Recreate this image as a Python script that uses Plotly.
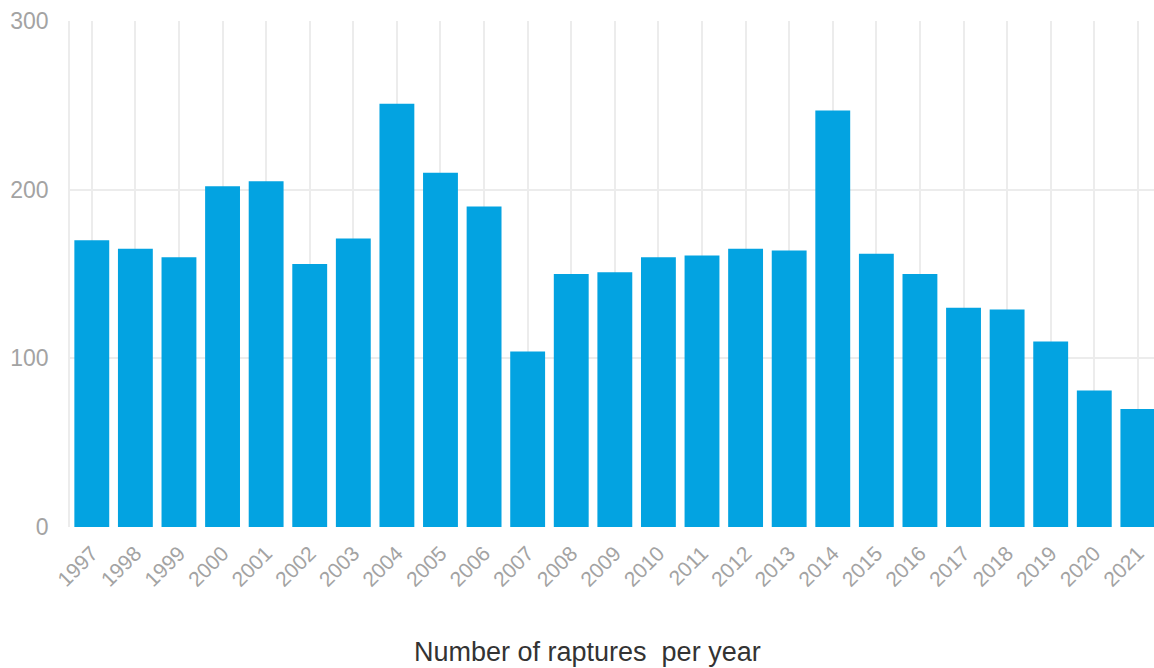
import plotly.graph_objects as go

# Raptures recorded per year
years = [str(y) for y in range(1997, 2022)]
raptures = [170, 165, 160, 202, 205, 156, 171, 251, 210, 190, 104, 150, 151,
            160, 161, 165, 164, 247, 162, 150, 130, 129, 110, 81, 70]
y_ticks = [0, 100, 200, 300]

BAR_COLOR = "#03a3e1"
GRID_COLOR = "#ececec"
TICK_COLOR = "#a3a3a3"
FONT = "Liberation Sans, Arial, Helvetica, sans-serif"

fig = go.Figure(
    go.Bar(
        x=years,
        y=raptures,
        marker=dict(color=BAR_COLOR, line=dict(width=0)),
        hovertemplate="%{x}: %{y}<extra></extra>",
    )
)

fig.update_layout(
    width=1154,
    height=668,
    margin=dict(l=70, r=0, t=21, b=141),
    paper_bgcolor="white",
    plot_bgcolor="white",
    bargap=0.2,
    showlegend=False,
    font=dict(family=FONT),
    annotations=[
        dict(
            text="Number of raptures  per year",
            xref="paper", yref="paper",
            x=0.477, y=0, yshift=-125,
            xanchor="center", yanchor="middle",
            showarrow=False,
            font=dict(size=27, color="#333333", family=FONT),
        )
    ],
)

fig.update_xaxes(
    type="category",
    range=[-0.5, 24.37],
    showgrid=True,
    gridcolor=GRID_COLOR,
    gridwidth=1.5,
    tickangle=-45,
    tickfont=dict(size=21, color=TICK_COLOR),
    ticks="",
    ticklabelstandoff=9,
    showline=False,
    zeroline=False,
)

fig.update_yaxes(
    range=[0, 300],
    tickvals=y_ticks,
    showgrid=True,
    gridcolor=GRID_COLOR,
    gridwidth=1.5,
    tickfont=dict(size=23, color=TICK_COLOR),
    ticks="",
    ticklabelstandoff=15,
    showline=True,
    linecolor=GRID_COLOR,
    linewidth=1.5,
    zeroline=False,
)

fig.write_html("out.html")
